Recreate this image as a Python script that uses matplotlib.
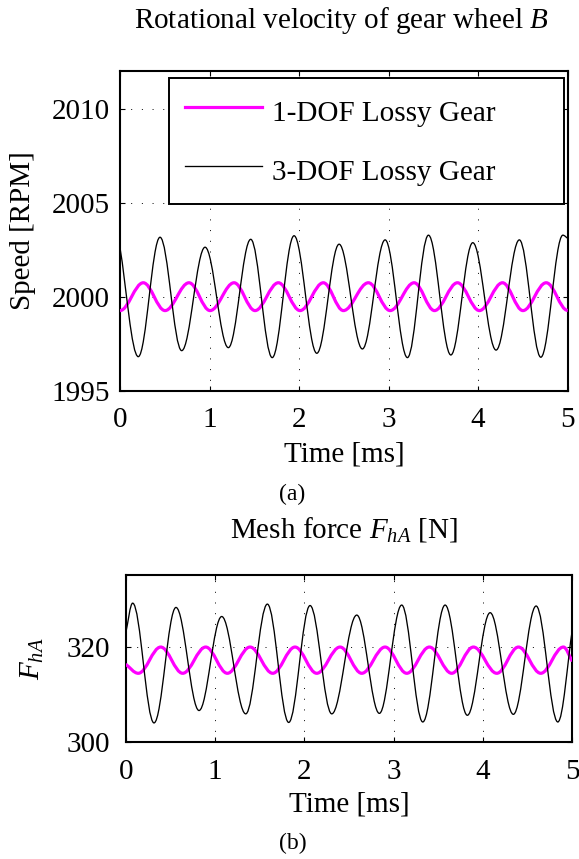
import numpy as np
import matplotlib
matplotlib.use('Agg')
import matplotlib.pyplot as plt
from matplotlib.path import Path
from matplotlib.patches import PathPatch
from matplotlib.lines import Line2D

plt.rcParams['font.family'] = 'serif'
plt.rcParams['font.serif'] = ['Liberation Serif', 'DejaVu Serif']
plt.rcParams['mathtext.fontset'] = 'custom'
plt.rcParams['mathtext.rm'] = 'Liberation Serif'
plt.rcParams['mathtext.it'] = 'Liberation Serif:italic'

# extrema (and end points), time in ms
speed_1dof_t = [0.0, 0.26, 0.503, 0.771, 1.006, 1.274, 1.508, 1.769, 2.011, 2.271, 2.495,
                2.774, 3.017, 3.285, 3.512, 3.769, 4.014, 4.272, 4.50, 4.76, 5.0]
speed_1dof_v = [1999.26, 2000.74, 1999.26, 2000.74, 1999.26, 2000.74, 1999.26, 2000.74,
                1999.26, 2000.74, 1999.26, 2000.74, 1999.26, 2000.74, 1999.26, 2000.74,
                1999.26, 2000.74, 1999.26, 2000.74, 1999.27]
speed_3dof_t = [0.0, 0.204, 0.447, 0.689, 0.950, 1.21, 1.46, 1.70, 1.944, 2.198, 2.447,
                2.707, 2.961, 3.21, 3.445, 3.695, 3.94, 4.20, 4.46, 4.70, 4.946, 5.0]
speed_3dof_v = [2002.6, 1996.81, 2003.16, 1997.13, 2002.63, 1997.29, 2003.05, 1996.76,
                2003.24, 1996.99, 2002.79, 1997.22, 2003.02, 1996.76, 2003.27, 1996.90,
                2002.87, 1997.16, 2003.02, 1996.78, 2003.27, 2003.1]

force_1dof_t = [0.0, 0.141, 0.392, 0.638, 0.896, 1.138, 1.392, 1.646, 1.896, 2.139, 2.40,
                2.643, 2.904, 3.147, 3.40, 3.65, 3.893, 4.155, 4.397, 4.647, 4.90, 5.0]
force_1dof_v = [316.3, 314.4, 319.9, 314.4, 319.9, 314.4, 319.9, 314.4, 319.9, 314.4, 319.9,
                314.4, 319.9, 314.4, 319.9, 314.4, 319.9, 314.4, 319.9, 314.4, 319.9, 316.9]
force_3dof_t = [0.0, 0.078, 0.317, 0.563, 0.821, 1.075, 1.344, 1.586, 1.825, 2.064, 2.307,
                2.587, 2.84, 3.09, 3.326, 3.576, 3.825, 4.08, 4.34, 4.595, 4.838, 5.0]
force_3dof_v = [322.8, 329.1, 304.0, 328.2, 306.6, 326.3, 305.9, 328.9, 304.1, 328.6, 305.9,
                326.6, 306.0, 328.7, 304.2, 328.7, 305.6, 327.1, 305.8, 328.5, 304.2, 323.5]

labels = ['1-DOF Lossy Gear', '3-DOF Lossy Gear']
time_ticks = [0, 1, 2, 3, 4, 5]
speed_ticks = [1995, 2000, 2005, 2010]
force_ticks = [300, 320]

MAGENTA = '#ff00ff'
FS = 21


def wave_path(t, v, free_start=False, free_end=False, a=0.3634):
    """Bezier path through extrema, flat tangent at each extremum."""
    verts = [(t[0], v[0])]
    codes = [Path.MOVETO]
    n = len(t)
    for i in range(n - 1):
        dt = t[i + 1] - t[i]
        dv = v[i + 1] - v[i]
        if i == 0 and free_start:
            c1 = (t[i] + dt / 3, v[i] + dv / 3)
        else:
            c1 = (t[i] + a * dt, v[i])
        if i == n - 2 and free_end:
            c2 = (t[i + 1] - dt / 3, v[i + 1] - dv / 3)
        else:
            c2 = (t[i + 1] - a * dt, v[i + 1])
        verts += [c1, c2, (t[i + 1], v[i + 1])]
        codes += [Path.CURVE4] * 3
    return Path(verts, codes)


def style_axes(ax, yticks, ypad):
    ax.set_xlim(0, 5)
    ax.set_xticks(time_ticks)
    ax.set_yticks(yticks)
    ax.tick_params(direction='in', length=3.6, width=0.8, labelsize=FS,
                   top=True, right=True)
    ax.tick_params(axis='x', pad=12)
    ax.tick_params(axis='y', pad=ypad)
    for s in ax.spines.values():
        s.set_linewidth(1.5)
    ax.grid(True, color='black', linestyle=(0, (1, 10)), linewidth=0.7)
    ax.set_axisbelow(True)


fig = plt.figure(figsize=(5.79, 8.59), dpi=100)
W, H = 579, 859
ax1 = fig.add_axes([120 / W, 1 - 390.7 / H, 447.7 / W, 319.7 / H])
ax2 = fig.add_axes([125.7 / W, 1 - 742 / H, 446.6 / W, 167 / H])

# (a) speed
ax1.add_patch(PathPatch(wave_path(speed_1dof_t, speed_1dof_v), fill=False,
                        ec=MAGENTA, lw=2.3, zorder=3))
ax1.add_patch(PathPatch(wave_path(speed_3dof_t, speed_3dof_v, True, True), fill=False,
                        ec='black', lw=0.95, zorder=3))
ax1.set_ylim(1995, 2012)
style_axes(ax1, speed_ticks, 7.5)
ax1.set_xlabel('Time [ms]', fontsize=FS, va='baseline')
ax1.xaxis.set_label_coords(0.5, -71 / 319.7)
ax1.set_ylabel('Speed [RPM]', fontsize=FS, va='center')
ax1.yaxis.set_label_coords((23 - 120) / 447.7, 0.5)

handles = [Line2D([], [], color=MAGENTA, lw=2.3), Line2D([], [], color='black', lw=0.95)]
leg = ax1.legend(handles, labels, loc='upper left', mode='expand',
                 bbox_to_anchor=((169 - 120) / 447.7, (390.7 - 80.7) / 319.7,
                                 (564 - 169) / 447.7, 0.01),
                 borderaxespad=0, fontsize=FS, handlelength=2.65, handletextpad=0.33,
                 borderpad=0.55, labelspacing=0.8, handleheight=1.5,
                 fancybox=False, framealpha=1, edgecolor='black')
leg.get_frame().set_linewidth(1.4)

# (b) mesh force
ax2.add_patch(PathPatch(wave_path(force_1dof_t, force_1dof_v, True, True), fill=False,
                        ec=MAGENTA, lw=2.3, zorder=3))
ax2.add_patch(PathPatch(wave_path(force_3dof_t, force_3dof_v, True, True), fill=False,
                        ec='black', lw=0.95, zorder=3))
ax2.set_ylim(300, 335)
style_axes(ax2, force_ticks, 11.5)
ax2.set_xlabel('Time [ms]', fontsize=FS, va='baseline')
ax2.xaxis.set_label_coords(0.5, -70 / 167)
ax2.set_ylabel('$F_{hA}$', fontsize=FS, va='center')
ax2.yaxis.set_label_coords((32 - 125.7) / 446.6, 0.5)

fig.text(341.5 / W, 1 - 28 / H, 'Rotational velocity of gear wheel $B$',
         ha='center', va='baseline', fontsize=21)
fig.text(292 / W, 1 - 500 / H, '(a)', ha='center', va='baseline', fontsize=17)
fig.text(344 / W, 1 - 537 / H, 'Mesh force $F_{hA}$ [N]',
         ha='center', va='baseline', fontsize=FS)
fig.text(293 / W, 1 - 849 / H, '(b)', ha='center', va='baseline', fontsize=17)

fig.savefig('out.png', dpi=100)
